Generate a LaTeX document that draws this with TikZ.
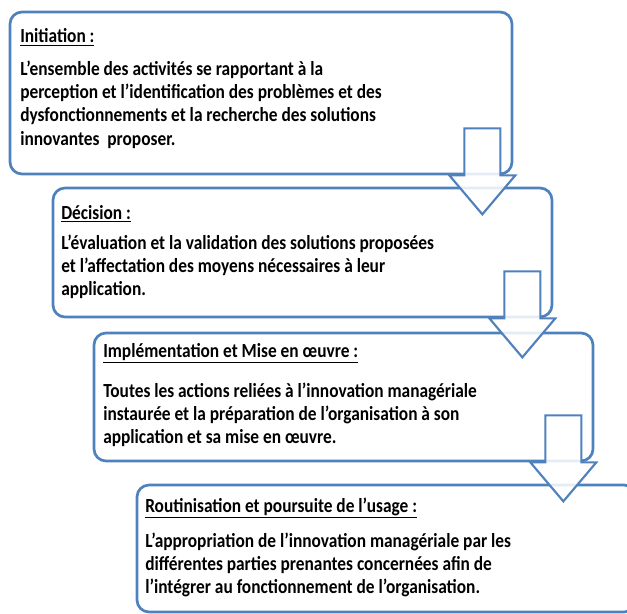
\documentclass[tikz,border=0pt]{standalone}
\usepackage{fontspec}
\setmainfont{Carlito}[FakeStretch=0.867]
\usepackage{tikz}
\usetikzlibrary{calc,positioning}
\definecolor{stageblue}{RGB}{79,129,189}
\newcommand\pxu{0.75pt}

\begin{document}
\begin{tikzpicture}[x=0.75pt,y=-0.75pt,
  stage/.style={draw=stageblue,line width=2pt,rounded corners=9pt,fill=white,inner sep=0pt},
  head/.style={font=\fontsize{15}{17.25}\selectfont\bfseries,inner sep=0pt,anchor=base west},
  body/.style={font=\fontsize{15}{17.25}\selectfont\bfseries,inner sep=0pt,align=left,anchor=base west},
  blockarrow/.style={draw=stageblue,line width=1.6pt,fill=white,fill opacity=.85,line join=miter}]
\useasboundingbox (0,0) rectangle (627,613);
\clip (0,0) rectangle (627,613);

% the four stages
\node (b1) [stage,minimum width={502*\pxu},minimum height={162*\pxu}] at (261,93) {};
\node (b2) [stage,minimum width={499*\pxu},minimum height={129*\pxu}] at (302.5,252.5) {};
\node (b3) [stage,minimum width={499*\pxu},minimum height={128*\pxu}] at (343.5,397) {};
\node (b4) [stage,minimum width={499*\pxu},minimum height={127*\pxu}] at (386.5,548.5) {};

% base of a body node = baseline of its last line (23px per line)
\node (t1) [head] at (20,43) {\underline{Initiation :}};
\node (d1) [body] at ($(t1.base west)+(0,102)$) {L’ensemble des activités se rapportant à la\\
perception et l’identification des problèmes et des\\
dysfonctionnements et la recherche des solutions\\
innovantes\ \ proposer.};

\node (t2) [head] at (61,219) {\underline{Décision :}};
\node (d2) [body] at ($(t2.base west)+(0,76)$) {L’évaluation et la validation des solutions proposées\\
et l’affectation des moyens nécessaires à leur\\
application.};

\node (t3) [head] at (103,357) {\underline{Implémentation et Mise en œuvre :}};
\node (d3) [body] at ($(t3.base west)+(0,86)$) {Toutes les actions reliées à l’innovation managériale\\
instaurée et la préparation de l’organisation à son\\
application et sa mise en œuvre.};

\node (t4) [head] at (145,512) {\underline{Routinisation et poursuite de l’usage :}};
\node (d4) [body] at ($(t4.base west)+(0,81)$) {L’appropriation de l’innovation managériale par les\\
différentes parties prenantes concernées afin de\\
l’intégrer au fonctionnement de l’organisation.};

% arrows from one stage to the next
\foreach \b in {b1,b2,b3}
  \draw[blockarrow] ($(\b.south east)+(-31,0)$) ++(-18,-47) -- ++(36,0) -- ++(0,47)
    -- ++(15,0) -- ++(-33,39) -- ++(-33,-39) -- ++(15,0) -- cycle;
\end{tikzpicture}
\end{document}
